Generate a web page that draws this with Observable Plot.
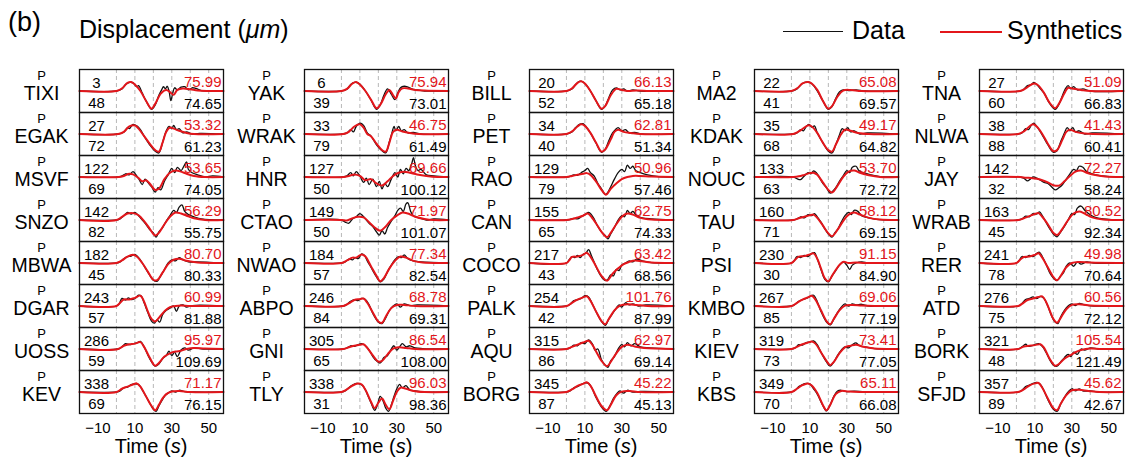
<!DOCTYPE html>
<html>
<head>
<meta charset="utf-8">
<script src="https://cdn.jsdelivr.net/npm/d3@7"></script>
<script src="https://cdn.jsdelivr.net/npm/@observablehq/plot@0.6"></script>
<style>
  body { margin: 0; background: #fff; font-family: "Liberation Sans", Arial, sans-serif; }
  #wrap { position: relative; width: 1135px; height: 464px; overflow: hidden; }
  #chart { position: absolute; left: 0; top: 0; }
  .hd { position: absolute; white-space: nowrap; color: #000; }
  .key { position: absolute; height: 0; }
</style>
</head>
<body>
<div id="wrap">
  <div id="chart"></div>
  <div class="hd" style="left:8px;top:9px;font-size:27px;line-height:27px">(b)</div>
  <div class="hd" style="left:79px;top:17px;font-size:25px;line-height:25px">Displacement (<i>μm</i>)</div>
  <div class="key" style="left:783px;top:31px;width:60px;border-top:1.5px solid #111"></div>
  <div class="hd" style="left:852px;top:18px;font-size:25px;line-height:25px">Data</div>
  <div class="key" style="left:940px;top:30.5px;width:62px;border-top:2px solid #e3161b"></div>
  <div class="hd" style="left:1007px;top:18px;font-size:25px;line-height:25px">Synthetics</div>
</div>
<script>
// Stations, listed column by column (8 per column)
const stations = [
  "TIXI", "EGAK", "MSVF", "SNZO", "MBWA", "DGAR", "UOSS", "KEV",
  "YAK", "WRAK", "HNR", "CTAO", "NWAO", "ABPO", "GNI", "TLY",
  "BILL", "PET", "RAO", "CAN", "COCO", "PALK", "AQU", "BORG",
  "MA2", "KDAK", "NOUC", "TAU", "PSI", "KMBO", "KIEV", "KBS",
  "TNA", "NLWA", "JAY", "WRAB", "RER", "ATD", "BORK", "SFJD"
];
// Azimuth (deg) and epicentral distance (deg)
const azimuths = [
  3, 27, 122, 142, 182, 243, 286, 338,
  6, 33, 127, 149, 184, 246, 305, 338,
  20, 34, 129, 155, 217, 254, 315, 345,
  22, 35, 133, 160, 230, 267, 319, 349,
  27, 38, 142, 163, 241, 276, 321, 357
];
const distances = [
  48, 72, 69, 82, 45, 57, 59, 69,
  39, 79, 50, 50, 57, 84, 65, 31,
  52, 40, 79, 65, 43, 42, 86, 87,
  41, 68, 63, 71, 30, 85, 73, 70,
  60, 88, 32, 45, 78, 75, 48, 89
];
// Peak amplitudes (micrometres)
const synthAmps = [
  75.99, 53.32, 53.65, 56.29, 80.70, 60.99, 95.97, 71.17,
  75.94, 46.75, 69.66, 71.97, 77.34, 68.78, 86.54, 96.03,
  66.13, 62.81, 50.96, 62.75, 63.42, 101.76, 62.97, 45.22,
  65.08, 49.17, 53.70, 58.12, 91.15, 69.06, 73.41, 65.11,
  51.09, 41.43, 72.27, 80.52, 49.98, 60.56, 105.54, 45.62
];
const dataAmps = [
  74.65, 61.23, 74.05, 55.75, 80.33, 81.88, 109.69, 76.15,
  73.01, 61.49, 100.12, 101.07, 82.54, 69.31, 108.00, 98.36,
  65.18, 51.34, 57.46, 74.33, 68.56, 87.99, 69.14, 45.13,
  69.57, 64.82, 72.72, 69.15, 84.90, 77.19, 77.05, 66.08,
  66.83, 60.41, 58.24, 92.34, 70.64, 72.12, 121.49, 42.67
];

// Normalised P waveforms, flat [time (s), amplitude, time, amplitude, ...]
const synthTraces = [
  [-20,0, 0,0, 3,0.12, 6,0.38, 8,0.42, 10,0.3, 13,0.0, 16,-0.45, 19,-0.82, 21,-0.6, 24,-0.12, 27,0.05, 29,-0.05, 31,-0.18, 33,0.05, 36,0.12, 40,0.08, 44,0.02, 50,0, 58,0],
  [-20,0, 1,0, 4,0.1, 7,0.35, 10,0.4, 12,0.25, 15,-0.1, 18,-0.45, 21,-0.75, 23,-0.82, 25,-0.4, 27,0.1, 29,0.3, 31,0.25, 34,0.15, 38,0.05, 42,0, 58,0],
  [-20,0, 1,0, 4,0.05, 7,0.15, 9,0.12, 12,-0.05, 14,-0.2, 16,-0.15, 18,-0.3, 21,-0.6, 23,-0.55, 26,-0.1, 29,0.2, 32,0.3, 35,0.25, 38,0.15, 42,0.05, 48,0, 58,0],
  [-20,0, 0,0, 3,0.15, 6,0.3, 9,0.32, 12,0.22, 15,-0.05, 18,-0.4, 21,-0.72, 23,-0.6, 26,-0.2, 29,0.15, 32,0.35, 35,0.3, 38,0.2, 42,0.08, 48,0, 58,0],
  [-20,0, 0,0, 3,0.12, 6,0.3, 9,0.38, 11,0.3, 14,0.0, 17,-0.4, 20,-0.78, 22,-0.8, 25,-0.45, 28,-0.05, 31,0.15, 34,0.2, 38,0.1, 44,0.02, 58,0],
  [-20,0, 0,0, 2,0.15, 4,0.3, 7,0.3, 10,0.38, 13,0.48, 15,0.2, 17,-0.25, 19,-0.6, 21,-0.72, 23,-0.55, 26,-0.25, 29,-0.05, 32,0.0, 35,0.02, 40,0.0, 58,0],
  [-20,0, 1,0, 4,0.15, 7,0.22, 10,0.25, 13,0.32, 15,0.1, 18,-0.4, 21,-0.78, 23,-0.65, 26,-0.35, 29,-0.2, 32,-0.12, 35,-0.08, 38,0.0, 42,0.05, 48,0.02, 58,0],
  [-20,0, 0,0, 3,0.15, 6,0.25, 9,0.35, 11,0.4, 13,0.25, 16,-0.2, 19,-0.65, 21,-0.85, 23,-0.6, 25,-0.3, 27,-0.1, 30,0.02, 34,0.05, 40,0.0, 58,0],

  [-20,0, 0,0, 3,0.1, 6,0.35, 8,0.42, 10,0.3, 13,0.0, 16,-0.4, 19,-0.8, 21,-0.65, 24,-0.15, 26,0.05, 28,-0.2, 29.5,-0.35, 31,-0.05, 33,0.12, 36,0.12, 40,0.05, 45,0.02, 58,0],
  [-20,0, 1,0, 4,0.1, 7,0.35, 10,0.45, 12,0.3, 14,0.0, 16,-0.1, 19,-0.45, 22,-0.75, 24,-0.82, 26,-0.4, 28,0.1, 30,0.2, 33,0.12, 37,0.05, 42,0, 58,0],
  [-20,0, 1,0, 4,0.05, 7,0.12, 10,0.05, 13,-0.15, 16,-0.1, 19,-0.3, 22,-0.4, 25,-0.2, 28,0.05, 31,0.2, 34,0.25, 37,0.2, 41,0.12, 46,0.05, 52,0, 58,0],
  [-20,0, 0,0, 3,-0.02, 6,0.08, 9,0.15, 12,0.12, 15,-0.1, 18,-0.35, 21,-0.5, 24,-0.3, 27,0.0, 30,0.2, 33,0.35, 36,0.3, 40,0.15, 45,0.05, 50,0, 58,0],
  [-20,0, 0,0, 3,0.12, 6,0.25, 8,0.25, 11,0.4, 13,0.3, 16,-0.15, 19,-0.6, 21,-0.85, 23,-0.7, 26,-0.25, 29,0.1, 32,0.3, 35,0.25, 39,0.1, 44,0.02, 58,0],
  [-20,0, 1,0, 4,0.12, 7,0.28, 10,0.32, 12,0.35, 14,0.15, 17,-0.3, 20,-0.72, 22,-0.78, 24,-0.5, 27,-0.1, 30,0.05, 34,0.05, 40,0.0, 58,0],
  [-20,0, 1,0, 4,0.08, 7,0.15, 10,0.2, 12,0.22, 14,0.05, 17,-0.3, 20,-0.58, 22,-0.55, 25,-0.25, 28,0.02, 31,0.08, 35,0.05, 40,0.0, 58,0],
  [-20,0, 0,0, 3,0.12, 6,0.3, 9,0.4, 11,0.35, 13,0.1, 16,-0.45, 18,-0.75, 20,-0.5, 22,-0.3, 24,-0.6, 26,-0.8, 28,-0.4, 30,0.0, 32,0.2, 35,0.15, 39,0.05, 45,0, 58,0],

  [-20,0, 0,0, 3,0.12, 6,0.38, 8,0.45, 10,0.35, 13,0.0, 16,-0.45, 19,-0.82, 21,-0.7, 24,-0.2, 27,0.1, 30,0.05, 33,0.0, 38,0.02, 45,0, 58,0],
  [-20,0, 0,0, 3,0.12, 6,0.35, 8,0.45, 10,0.38, 13,0.05, 16,-0.4, 19,-0.82, 21,-0.72, 24,-0.25, 26,0.1, 28,0.2, 31,0.1, 35,0.05, 40,0.0, 58,0],
  [-20,0, 0,0, 3,0.05, 6,0.1, 9,0.15, 11,0.18, 13,0.1, 16,-0.2, 19,-0.6, 21.5,-0.82, 24,-0.55, 27,-0.3, 30,-0.1, 33,0.0, 36,0.05, 40,0.05, 46,0.02, 58,0],
  [-20,0, 0,0, 3,0.05, 6,0.12, 9,0.2, 11.5,0.3, 13,0.2, 16,-0.15, 19,-0.55, 22,-0.8, 24,-0.6, 27,-0.2, 30,0.15, 33,0.3, 36,0.25, 40,0.1, 46,0.02, 58,0],
  [-20,0, 0,0, 1.5,0.12, 3,0.28, 6,0.3, 9,0.38, 11,0.48, 13,0.3, 16,-0.15, 19,-0.6, 22,-0.82, 25,-0.5, 28,-0.25, 31,-0.05, 34,0.05, 37,0.12, 41,0.08, 46,0.02, 58,0],
  [-20,0, 0,0, 3,0.15, 6,0.3, 9,0.4, 11,0.45, 13,0.25, 16,-0.25, 19,-0.7, 21,-0.85, 23,-0.6, 26,-0.2, 29,0.02, 33,0.08, 38,0.05, 44,0.0, 58,0],
  [-20,0, 0,0, 3,0.1, 6,0.2, 9,0.3, 12,0.38, 14,0.2, 16,-0.1, 19,-0.55, 22,-0.8, 24,-0.6, 27,-0.2, 30,0.1, 33,0.2, 37,0.12, 42,0.05, 58,0],
  [-20,0, 0,0, 3,0.12, 6,0.28, 9,0.38, 11,0.45, 13,0.3, 16,-0.2, 19,-0.65, 22,-0.85, 24,-0.6, 27,-0.15, 30,0.02, 34,0.05, 40,0.0, 58,0],

  [-20,0, 0,0, 3,0.12, 6,0.35, 9,0.42, 11,0.35, 14,0.05, 17,-0.45, 20,-0.82, 22,-0.7, 25,-0.25, 28,0.02, 32,0.05, 38,0.0, 58,0],
  [-20,0, 1,0, 4,0.12, 7,0.3, 9,0.4, 11,0.35, 14,0.05, 17,-0.4, 20,-0.75, 22,-0.82, 24,-0.5, 27,0.0, 29,0.2, 32,0.15, 36,0.05, 42,0.0, 58,0],
  [-20,0, 1,0, 4,0.03, 7,0.1, 10,0.18, 12,0.2, 14,0.1, 17,-0.25, 20,-0.6, 22,-0.72, 25,-0.4, 28,0.0, 31,0.25, 34,0.3, 37,0.2, 42,0.08, 48,0.0, 58,0],
  [-20,0, 1,0, 4,0.08, 7,0.15, 10,0.22, 12,0.25, 14,0.1, 17,-0.25, 20,-0.62, 22,-0.75, 25,-0.45, 28,-0.05, 31,0.25, 34,0.35, 37,0.25, 42,0.1, 48,0.02, 58,0],
  [-20,0, 0,0, 2,0.15, 4,0.3, 7,0.32, 10,0.4, 12,0.45, 14,0.2, 16,-0.25, 18,-0.7, 20,-0.85, 22,-0.6, 25,-0.2, 28,0.05, 31,0.0, 35,0.02, 40,0.0, 58,0],
  [-20,0, 0,0, 3,0.15, 6,0.3, 9,0.4, 11,0.48, 13,0.3, 16,-0.2, 19,-0.7, 21,-0.85, 23,-0.6, 26,-0.2, 29,0.02, 33,0.05, 38,0.02, 45,0, 58,0],
  [-20,0, 0,0, 3,0.1, 6,0.22, 9,0.3, 11,0.35, 13,0.25, 16,-0.15, 19,-0.55, 21,-0.75, 23,-0.6, 26,-0.2, 29,0.08, 32,0.15, 35,0.2, 39,0.1, 45,0.02, 58,0],
  [-20,0, 0,0, 3,0.15, 6,0.32, 9,0.4, 11,0.3, 14,-0.05, 17,-0.6, 19,-0.85, 21,-0.6, 24,-0.1, 27,0.05, 31,0.02, 37,0.0, 58,0],

  [-20,0, 2,0, 5,0.12, 8,0.3, 10,0.35, 12,0.25, 15,-0.1, 18,-0.55, 21,-0.8, 23,-0.6, 26,-0.1, 28,0.15, 31,0.1, 35,0.05, 40,0.0, 58,0],
  [-20,0, 1,0, 4,0.12, 7,0.35, 9,0.45, 11,0.35, 14,0.0, 17,-0.45, 20,-0.8, 22,-0.75, 25,-0.25, 27,0.1, 29,0.2, 32,0.1, 37,0.02, 58,0],
  [-20,0, 2,0, 5,-0.03, 8,-0.05, 11,-0.08, 14,-0.15, 17,-0.25, 20,-0.38, 23,-0.4, 26,-0.2, 29,0.05, 32,0.25, 35,0.3, 38,0.2, 42,0.1, 48,0.02, 58,0],
  [-20,0, 1,0, 4,0.08, 7,0.18, 10,0.28, 12,0.32, 14,0.15, 17,-0.2, 20,-0.6, 22,-0.7, 25,-0.4, 28,0.0, 31,0.3, 34,0.4, 37,0.3, 41,0.12, 47,0.02, 58,0],
  [-20,0, 0,0, 2,0.15, 4,0.28, 7,0.3, 10,0.38, 12,0.45, 14,0.25, 17,-0.2, 20,-0.65, 22,-0.8, 24,-0.6, 27,-0.2, 30,0.0, 34,0.05, 40,0.02, 58,0],
  [-20,0, 1,0, 3,0.1, 6,0.28, 9,0.35, 12,0.42, 14,0.45, 16,0.2, 18,-0.2, 20,-0.6, 22,-0.78, 24,-0.55, 27,-0.15, 30,0.05, 34,0.08, 40,0.02, 58,0],
  [-20,0, 1,0, 4,0.12, 7,0.15, 10,0.18, 13,0.22, 15,0.05, 18,-0.45, 21,-0.78, 23,-0.7, 26,-0.45, 29,-0.3, 32,-0.15, 35,-0.05, 40,0.02, 46,0.0, 58,0],
  [-20,0, 1,0, 4,0.12, 7,0.3, 10,0.4, 12,0.42, 14,0.2, 17,-0.3, 20,-0.75, 22,-0.85, 24,-0.55, 27,-0.15, 30,0.08, 34,0.1, 39,0.05, 45,0.0, 58,0]
];

const dataTraces = [
  [-20,0, 0,0, 3,0.1, 5,0.3, 7,0.4, 9,0.38, 11,0.2, 12,0.25, 14,-0.1, 16,-0.45, 19,-0.85, 21,-0.65, 23,-0.2, 24.5,0.05, 25.5,0.2, 26.5,0.1, 27.5,0.22, 28.5,0.0, 29.5,-0.45, 30.5,-0.1, 31.5,0.15, 33,0.05, 35,0.18, 37,0.2, 39,0.05, 41,0.15, 43,0.12, 46,0.02, 50,0.0, 58,0],
  [-20,0, 1,0, 4,0.08, 6,0.3, 7,0.25, 9,0.45, 11,0.38, 13,0.2, 15,-0.1, 18,-0.5, 21,-0.8, 23,-0.88, 25,-0.4, 27,0.15, 28.5,0.35, 30,0.25, 31,0.4, 32.5,0.2, 34,0.25, 36,0.05, 38,0.1, 41,0.0, 45,0.03, 58,0],
  [-20,0, 1,0, 3,0.05, 5,0.15, 7,0.1, 9,0.25, 11,0.05, 12.5,-0.15, 14,-0.35, 15.5,-0.1, 17,-0.25, 19,-0.45, 21,-0.7, 22.5,-0.5, 24,-0.6, 26,-0.2, 28,0.1, 30,0.4, 31.5,0.2, 33,0.45, 35,0.3, 36.5,0.5, 38,0.7, 39,0.35, 41,0.2, 44,0.1, 48,0.0, 52,0.05, 58,0],
  [-20,0, 0,0, 2,0.05, 4,0.2, 6,0.35, 8,0.28, 10,0.35, 12,0.2, 14,0.0, 16,-0.2, 18,-0.45, 20,-0.6, 21.5,-0.8, 23,-0.55, 25,-0.35, 27,-0.05, 29,0.2, 31,0.45, 32.5,0.35, 34,0.6, 35.5,0.7, 37,0.4, 39,0.25, 42,0.15, 46,0.05, 58,0],
  [-20,0, 0,0, 2,0.05, 4,0.2, 6,0.3, 8,0.32, 10,0.4, 12,0.25, 14,0.0, 17,-0.42, 20,-0.8, 22,-0.85, 24,-0.6, 26,-0.3, 28,0.0, 30,0.15, 32,0.1, 34,0.25, 36,0.15, 39,0.05, 43,0.05, 58,0],
  [-20,0, 0,0, 1.5,0.1, 3,0.35, 5,0.28, 6.5,0.38, 8,0.3, 10,0.35, 12,0.5, 13.5,0.45, 15,0.15, 17,-0.3, 19,-0.7, 20.5,-0.8, 22,-0.65, 23.5,-0.75, 25,-0.4, 27,-0.2, 29,-0.1, 31,0.0, 32.5,-0.25, 34,0.0, 36,0.05, 38,-0.05, 41,0.02, 58,0],
  [-20,0, 1,0, 3,0.1, 5,0.25, 7,0.2, 9,0.25, 11,0.28, 13,0.35, 15,0.1, 18,-0.45, 21,-0.8, 23,-0.7, 25,-0.45, 27,-0.3, 28.5,-0.1, 30,-0.3, 31.5,-0.15, 33,-0.35, 35,-0.05, 37,0.05, 39,-0.05, 42,0.05, 47,0.0, 58,0],
  [-20,0, 0,0, 2,0.05, 4,0.2, 6,0.22, 8,0.35, 10,0.38, 12,0.35, 14,0.1, 17,-0.35, 20,-0.8, 21.5,-0.9, 23,-0.65, 25,-0.35, 26.5,-0.15, 28,-0.05, 30,0.05, 32,0.0, 34,0.08, 37,0.02, 42,0.0, 58,0],

  [-20,0, 0,0, 3,0.08, 5,0.3, 7,0.4, 9,0.38, 11,0.22, 13,0.0, 16,-0.42, 19,-0.85, 21,-0.65, 23,-0.2, 25,0.1, 27,-0.15, 29,-0.4, 30.5,-0.1, 32,0.15, 34,0.22, 36,0.18, 38,0.1, 41,0.05, 45,0.0, 58,0],
  [-20,0, 1,0, 3,0.05, 5,0.2, 6.5,0.1, 8,0.35, 10,0.5, 12,0.4, 14,0.05, 16,-0.1, 19,-0.5, 22,-0.78, 24,-0.88, 26,-0.35, 27.5,0.1, 28.5,0.35, 29.5,0.15, 31,0.35, 32.5,0.15, 34,0.2, 36,0.05, 39,0.08, 43,0.0, 58,0],
  [-20,0, 1,0, 3,0.05, 5,0.2, 6.5,0.05, 8,0.25, 10,0.05, 12,-0.25, 13.5,-0.05, 15,-0.35, 17,-0.1, 19,-0.45, 20.5,-0.2, 22,-0.55, 23.5,-0.3, 25,-0.45, 27,-0.1, 29,0.2, 30.5,0.0, 32,0.35, 33.5,0.15, 35,0.4, 36.5,0.3, 38,0.6, 39,0.9, 40,0.55, 41.5,0.3, 43,0.35, 46,0.1, 50,0.05, 58,0],
  [-20,0, 0,0, 2,-0.1, 4,-0.15, 6,0.05, 8,0.15, 10,0.3, 11.5,0.2, 13,0.05, 15,-0.15, 17,-0.3, 19,-0.55, 20.5,-0.7, 22,-0.5, 23.5,-0.65, 25,-0.35, 27,-0.05, 29,0.2, 30.5,0.45, 32,0.55, 33.5,0.4, 35,0.75, 36,0.8, 37.5,0.4, 39,0.2, 42,0.1, 46,0.0, 50,0.05, 58,0],
  [-20,0, 0,0, 2,0.05, 4,0.18, 6,0.15, 7.5,0.25, 9,0.2, 11,0.42, 12.5,0.35, 14,0.1, 16,-0.2, 19,-0.65, 21,-0.88, 23,-0.75, 25,-0.4, 27,-0.1, 29,0.15, 31,0.3, 32.5,0.25, 34,0.38, 36,0.2, 39,0.1, 43,0.05, 58,0],
  [-20,0, 1,0, 3,0.08, 5,0.22, 7,0.3, 9,0.25, 11,0.35, 13,0.3, 15,0.05, 17,-0.35, 20,-0.75, 22,-0.82, 24,-0.55, 26,-0.2, 28,0.0, 30,0.1, 32,-0.05, 34,0.1, 37,0.02, 41,0.05, 58,0],
  [-20,0, 1,0, 3,0.05, 5,0.15, 7,0.12, 9,0.2, 11,0.25, 13,0.15, 15,-0.05, 17,-0.35, 19,-0.55, 21,-0.65, 23,-0.4, 25,-0.3, 27,0.0, 28.5,0.15, 30,-0.05, 31.5,0.1, 33,0.25, 35,0.1, 37,0.15, 40,0.05, 44,0.02, 58,0],
  [-20,0, 0,0, 2,0.05, 4,0.2, 6,0.32, 8,0.4, 10,0.38, 12,0.25, 14,-0.1, 16,-0.5, 18,-0.85, 19.5,-0.6, 21,-0.2, 22.5,-0.4, 24,-0.75, 25.5,-0.9, 27,-0.6, 28.5,-0.2, 30,0.15, 31.5,0.35, 33,0.2, 35,0.3, 37,0.1, 40,0.05, 44,0.0, 58,0],

  [-20,0, 0,0, 3,0.1, 5,0.3, 7,0.45, 9,0.42, 11,0.25, 13,0.0, 16,-0.45, 19,-0.85, 21,-0.7, 23,-0.3, 25,0.05, 27,0.15, 29,0.05, 31,0.1, 33,0.0, 36,0.05, 40,0.0, 58,0],
  [-20,0, 0,0, 3,0.1, 5,0.3, 7,0.45, 9,0.48, 11,0.3, 13,0.05, 16,-0.42, 19,-0.85, 21,-0.72, 23,-0.3, 25,0.05, 26.5,0.2, 28,0.3, 30,0.15, 32,0.2, 34,0.05, 37,0.08, 41,0.0, 58,0],
  [-20,0, 0,0, 2,0.03, 4,0.1, 6,0.08, 8,0.2, 10,0.3, 11.5,0.4, 13,0.2, 15,0.05, 17,-0.3, 19,-0.55, 21,-0.82, 22.5,-0.7, 24,-0.45, 26,-0.1, 28,0.2, 30,0.35, 31.5,0.25, 33,0.55, 34.5,0.4, 36,0.5, 37.5,0.3, 40,0.2, 44,0.1, 50,0.02, 58,0],
  [-20,0, 0,0, 2,0.02, 4,0.08, 6,0.05, 8,0.15, 10,0.25, 12,0.35, 13.5,0.25, 15,0.05, 17,-0.3, 19,-0.55, 21,-0.72, 22.5,-0.88, 24,-0.65, 26,-0.35, 28,0.0, 30,0.2, 31.5,0.15, 33,0.45, 34.5,0.3, 36,0.4, 38,0.2, 41,0.1, 46,0.05, 58,0],
  [-20,0, 0,0, 1.5,0.15, 3,0.3, 4.5,0.25, 6,0.35, 7.5,0.25, 9,0.4, 10.5,0.45, 12,0.62, 13.5,0.35, 15,0.05, 17,-0.35, 19,-0.65, 21,-0.82, 22.5,-0.75, 24,-0.55, 25.5,-0.6, 27,-0.3, 28.5,-0.35, 30,-0.1, 32,0.0, 34,0.1, 36,0.05, 38,0.18, 41,0.1, 46,0.02, 58,0],
  [-20,0, 0,0, 2,0.08, 4,0.25, 6,0.3, 8,0.35, 10,0.48, 12,0.42, 14,0.1, 16,-0.25, 19,-0.72, 21,-0.9, 23,-0.6, 25,-0.35, 27,-0.1, 28.5,0.05, 30,-0.05, 32,0.15, 34,0.05, 36,0.1, 39,0.0, 43,0.05, 58,0],
  [-20,0, 0,0, 2,0.05, 4,0.18, 6,0.15, 8,0.3, 10,0.25, 12,0.42, 14,0.25, 15.5,-0.05, 17,0.0, 19,-0.5, 21,-0.75, 22.5,-0.85, 24,-0.55, 26,-0.35, 28,0.0, 30,0.2, 31.5,0.1, 33,0.3, 35,0.15, 37,0.25, 40,0.1, 45,0.05, 58,0],
  [-20,0, 0,0, 2,0.05, 4,0.2, 6,0.25, 8,0.35, 10,0.42, 12,0.4, 14,0.15, 16,-0.25, 19,-0.7, 21.5,-0.9, 23.5,-0.65, 25.5,-0.3, 27.5,-0.05, 29,0.05, 31,-0.05, 33,0.08, 36,0.0, 40,0.03, 58,0],

  [-20,0, 0,0, 3,0.1, 6,0.35, 8.5,0.42, 10,0.4, 12,0.25, 14,0.0, 17,-0.45, 20,-0.85, 22,-0.72, 24,-0.35, 26,-0.05, 28,0.05, 31,0.02, 35,0.05, 40,0.0, 58,0],
  [-20,0, 1,0, 3,0.05, 5,0.2, 6.5,0.15, 8,0.35, 9.5,0.45, 11,0.32, 12.5,0.38, 14,0.05, 17,-0.4, 20,-0.8, 22,-0.88, 24,-0.5, 26,-0.05, 27.5,0.25, 29,0.15, 30.5,0.3, 32,0.1, 34,0.15, 37,0.0, 41,0.05, 58,0],
  [-20,0, 1,0, 3,-0.08, 5,-0.12, 7,0.05, 9,0.2, 10.5,0.15, 12,0.28, 13.5,0.2, 15,0.0, 17,-0.3, 19,-0.5, 21,-0.75, 22.5,-0.65, 24,-0.5, 26,-0.2, 28,0.05, 30,0.3, 31.5,0.2, 33,0.45, 35,0.5, 36.5,0.3, 39,0.2, 43,0.1, 48,0.02, 58,0],
  [-20,0, 1,0, 3,0.05, 5,0.15, 7,0.1, 9,0.25, 11,0.2, 12.5,0.3, 14,0.15, 16,-0.1, 18,-0.4, 20,-0.65, 22,-0.8, 23.5,-0.6, 25,-0.45, 27,-0.1, 29,0.2, 31,0.35, 32.5,0.25, 34,0.45, 36,0.4, 38,0.2, 41,0.12, 46,0.03, 58,0],
  [-20,0, 0,0, 1.5,0.1, 3,0.3, 5,0.25, 7,0.35, 9,0.3, 11,0.45, 12.5,0.48, 14,0.2, 16,-0.3, 18,-0.75, 20,-0.88, 22,-0.6, 24,-0.35, 26,-0.1, 28,0.05, 30,-0.1, 31.5,-0.3, 33,-0.1, 35,0.0, 38,0.05, 42,0.0, 58,0],
  [-20,0, 0,0, 2,0.08, 4,0.22, 6,0.3, 8,0.35, 10,0.45, 12,0.5, 14,0.2, 16,-0.25, 19,-0.75, 21,-0.88, 23,-0.6, 25,-0.3, 27,-0.05, 29,0.1, 31,0.0, 33,0.1, 35,0.05, 38,0.08, 42,0.0, 58,0],
  [-20,0, 0,0, 2,0.05, 4,0.2, 6,0.18, 8,0.3, 10,0.32, 12,0.38, 14,0.2, 16,-0.15, 19,-0.6, 21,-0.8, 23,-0.6, 25,-0.3, 27,-0.05, 29,0.1, 31,0.05, 33,0.2, 35,0.28, 37,0.15, 40,0.1, 45,0.02, 58,0],
  [-20,0, 0,0, 2,0.08, 4,0.25, 6,0.35, 8,0.4, 10,0.38, 12,0.15, 14,-0.1, 17,-0.62, 19,-0.88, 21,-0.6, 23,-0.2, 25,0.05, 27,0.08, 30,0.02, 34,0.04, 40,0.0, 58,0],

  [-20,0, 2,0, 4,0.08, 6,0.25, 8,0.3, 9.5,0.4, 11,0.3, 13,0.1, 15,-0.1, 18,-0.58, 21,-0.85, 23,-0.62, 25,-0.2, 26.5,0.1, 28,0.25, 29.5,0.1, 31,0.2, 33,0.05, 36,0.1, 40,0.0, 58,0],
  [-20,0, 1,0, 3,0.05, 5,0.25, 6.5,0.2, 8,0.4, 9.5,0.5, 11,0.35, 13,0.1, 15,-0.2, 17,-0.5, 20,-0.85, 22,-0.78, 24,-0.35, 26,0.05, 27.5,0.3, 29,0.15, 30.5,0.3, 32,0.1, 34,0.15, 37,0.0, 41,0.05, 58,0],
  [-20,0, 2,0, 4,-0.05, 6,-0.18, 7.5,-0.1, 9,0.0, 11,-0.05, 13,-0.15, 15,-0.25, 17,-0.3, 19,-0.45, 21,-0.6, 23,-0.5, 25,-0.35, 27,-0.1, 29,0.15, 31,0.35, 32.5,0.3, 34,0.5, 36,0.45, 38,0.25, 41,0.15, 46,0.05, 58,0],
  [-20,0, 1,0, 3,0.05, 5,0.18, 7,0.15, 9,0.3, 11,0.28, 12.5,0.38, 14,0.2, 16,-0.1, 18,-0.4, 20,-0.65, 22,-0.78, 24,-0.55, 26,-0.3, 28,0.0, 30,0.3, 31.5,0.25, 33,0.55, 35,0.65, 37,0.45, 39,0.3, 42,0.15, 47,0.05, 58,0],
  [-20,0, 0,0, 1.5,0.12, 3,0.3, 5,0.25, 7,0.35, 9,0.3, 11,0.45, 12.5,0.5, 14,0.3, 16,-0.05, 18,-0.45, 20,-0.7, 22,-0.82, 24,-0.6, 25.5,-0.45, 27,-0.15, 29,0.0, 31,-0.15, 33,0.05, 35,-0.05, 38,0.05, 42,0.0, 58,0],
  [-20,0, 1,0, 3,0.12, 5,0.3, 7,0.35, 9,0.42, 11,0.35, 13,0.45, 15,0.35, 17,0.0, 19,-0.45, 21,-0.75, 22.5,-0.82, 24,-0.5, 26,-0.2, 28,0.0, 30,0.1, 32,0.02, 34,0.12, 37,0.05, 42,0.0, 58,0],
  [-20,0, 1,0, 3,0.1, 5,0.22, 6.5,0.12, 8,0.15, 10,0.2, 12,0.25, 14,0.12, 16,-0.15, 18,-0.5, 20,-0.75, 22,-0.8, 24,-0.6, 26,-0.4, 28,-0.25, 29.5,-0.35, 31,-0.15, 33,-0.25, 35,0.0, 37,-0.05, 40,0.05, 45,0.0, 58,0],
  [-20,0, 1,0, 3,0.08, 5,0.25, 7,0.32, 9,0.4, 11,0.45, 13,0.35, 15,0.05, 17,-0.35, 20,-0.8, 22,-0.9, 24,-0.55, 26,-0.25, 28,0.0, 30,0.15, 32,0.05, 34,0.15, 36,0.05, 40,0.05, 45,0.0, 58,0]
];

const timeTicks = [-10, 10, 30, 50];
const gridTimes = [0, 10, 20, 30, 40, 50];
const rowsPerColumn = 8;
const columnIds = [0, 1, 2, 3, 4];

const panels = stations.map((name, i) => ({
  name,
  col: Math.floor(i / rowsPerColumn),
  row: i % rowsPerColumn,
  az: String(azimuths[i]),
  dist: String(distances[i]),
  syn: synthAmps[i].toFixed(2),
  obs: dataAmps[i].toFixed(2)
}));

function toPoints(traces) {
  return traces.flatMap((arr, i) => {
    const pts = [];
    for (let k = 0; k < arr.length; k += 2) {
      pts.push({id: i, col: panels[i].col, row: panels[i].row, t: arr[k], a: arr[k + 1]});
    }
    return pts;
  });
}
const synthPoints = toPoints(synthTraces);
const dataPoints = toPoints(dataTraces);

const RED = "#e3161b";
const facetXY = {fx: "col", fy: "row"};

const chart = Plot.plot({
  width: 1135,
  height: 464,
  marginTop: 67,
  marginBottom: 50,
  marginLeft: 78,
  marginRight: 11,
  style: {fontFamily: '"Liberation Sans", Arial, sans-serif', fontSize: "15px", color: "#000", background: "transparent"},
  x: {domain: [-20, 58]},
  y: {domain: [-1, 1], axis: null},
  fx: {domain: columnIds, paddingInner: 0.3614, paddingOuter: 0, axis: null},
  fy: {domain: d3.range(rowsPerColumn), padding: 0, axis: null},
  marks: [
    Plot.ruleX(gridTimes, {stroke: "#b8b8b8", strokeWidth: 1, strokeDasharray: "4,3"}),
    Plot.line(dataPoints, {...facetXY, x: "t", y: "a", z: "id", stroke: "#111", strokeWidth: 1.3, curve: "catmull-rom"}),
    Plot.line(synthPoints, {...facetXY, x: "t", y: "a", z: "id", stroke: RED, strokeWidth: 2, curve: "catmull-rom"}),
    Plot.frame({stroke: "#111", strokeWidth: 1.3}),
    // station name with the phase marker above it
    Plot.text(panels, {...facetXY, text: "name", frameAnchor: "top-left", dx: -38, dy: 30.8,
      textAnchor: "middle", lineAnchor: "bottom", fontSize: 19.5}),
    Plot.text(panels, {...facetXY, text: () => "P", frameAnchor: "top-left", dx: -38, dy: 10,
      textAnchor: "middle", lineAnchor: "bottom", fontSize: 13}),
    // azimuth and distance
    Plot.text(panels, {...facetXY, text: "az", frameAnchor: "top-left", dx: 17, dy: 18,
      textAnchor: "middle", lineAnchor: "bottom", fontSize: 15}),
    Plot.text(panels, {...facetXY, text: "dist", frameAnchor: "top-left", dx: 17, dy: 38.5,
      textAnchor: "middle", lineAnchor: "bottom", fontSize: 15}),
    // peak amplitudes: synthetics (red) and data (black)
    Plot.text(panels, {...facetXY, text: "syn", frameAnchor: "top-right", dx: -2, dy: 17,
      textAnchor: "end", lineAnchor: "bottom", fontSize: 15, fill: RED}),
    Plot.text(panels, {...facetXY, text: "obs", frameAnchor: "top-right", dx: -2, dy: 39.5,
      textAnchor: "end", lineAnchor: "bottom", fontSize: 15, fill: "#000"}),
    Plot.axisX({ticks: timeTicks, tickSize: 0, tickPadding: 9, fontSize: 15, label: null})
  ]
});

document.getElementById("chart").appendChild(chart);

// "Time (s)" under each column, centred on the column's band
const fxScale = chart.scale("fx");
const svg = d3.select(chart.tagName.toLowerCase() === "svg" ? chart : chart.querySelector("svg"));
columnIds.forEach(c => {
  const cx = fxScale.apply(c) + fxScale.bandwidth / 2;
  const t = svg.append("text")
    .attr("x", cx).attr("y", 453)
    .attr("text-anchor", "middle")
    .attr("font-size", 20)
    .attr("fill", "#000");
  t.append("tspan").text("Time (");
  t.append("tspan").attr("font-style", "italic").text("s");
  t.append("tspan").text(")");
});
</script>
</body>
</html>
